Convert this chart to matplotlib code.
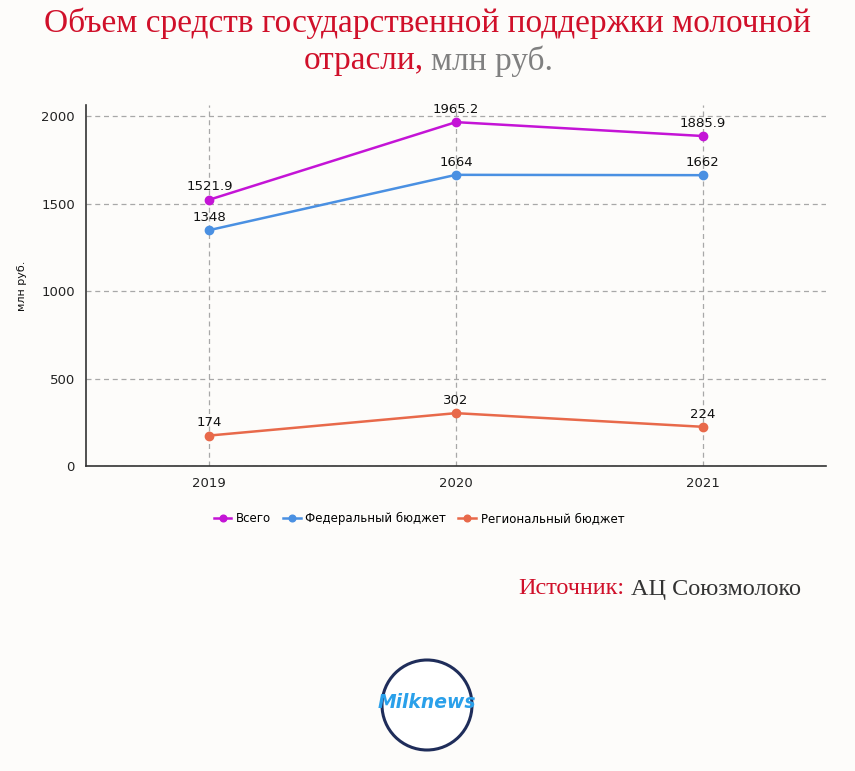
import matplotlib
matplotlib.use('Agg')
import matplotlib.pyplot as plt
from matplotlib.patches import Circle

years = ['2019', '2020', '2021']
total = [1521.9, 1965.2, 1885.9]
federal = [1348, 1664, 1662]
regional = [174, 302, 224]
series_names = ['Всего', 'Федеральный бюджет', 'Региональный бюджет']
colors = ['#c414d6', '#4a90e2', '#e8694a']

bg = '#fdfcfa'
fig = plt.figure(figsize=(8.55, 7.71), dpi=100, facecolor=bg)
ax = fig.add_axes([0.1006, 0.3956, 0.8654, 0.4682], facecolor=bg)

x = list(range(len(years)))
for vals, name, c in zip([total, federal, regional], series_names, colors):
    ax.plot(x, vals, color=c, lw=1.8, marker='o', ms=6, label=name, zorder=3)
    for xi, v in zip(x, vals):
        txt = ('%g' % v)
        ax.annotate(txt, (xi, v), xytext=(0, 4.5), textcoords='offset points',
                    ha='center', va='bottom', fontsize=9.5, color='#111111')

ax.set_xlim(-0.5, 2.5)
ax.set_ylim(0, 2063)
ax.set_xticks(x)
ax.set_xticklabels(years)
ax.set_yticks([0, 500, 1000, 1500, 2000])
ax.grid(True, ls=(0, (4, 3)), color='#a8a8a8', lw=0.9)
ax.set_axisbelow(True)
for s in ['top', 'right']:
    ax.spines[s].set_visible(False)
for s in ['left', 'bottom']:
    ax.spines[s].set_color('#333333')
    ax.spines[s].set_linewidth(1.2)
ax.tick_params(length=0, labelsize=9.5, colors='#222222', pad=8)
ax.set_ylabel('млн руб.', fontsize=8, color='#111111', labelpad=10)

fig.legend(loc='center', bbox_to_anchor=(0.49, 0.327), ncol=3, frameon=False,
           fontsize=8.5, handlelength=1.5, columnspacing=1.0, handletextpad=0.4,
           markerscale=0.8)

# title
fig.text(0.5, 0.97, 'Объем средств государственной поддержки молочной',
         ha='center', va='center', fontsize=24, color='#d0102a', family='Liberation Serif')
fig.text(424 / 855, 0.921, 'отрасли,', ha='right', va='center', fontsize=24,
         color='#d0102a', family='Liberation Serif')
fig.text(431 / 855, 0.921, 'млн руб.', ha='left', va='center', fontsize=24,
         color='#808080', family='Liberation Serif')

# source
fig.canvas.draw()
r = fig.canvas.get_renderer()
t1 = fig.text(518 / 855, 1 - 589 / 771, 'Источник:', ha='left', va='center', fontsize=17.5,
              color='#d0102a', family='Liberation Serif')
bb = t1.get_window_extent(r)
fig.text((bb.x1 + 7) / fig.bbox.width, 1 - 589 / 771, 'АЦ Союзмолоко', ha='left', va='center',
         fontsize=17.5, color='#333333', family='Liberation Serif')

# logo
lax = fig.add_axes([0, 0, 1, 1], facecolor='none')
lax.set_xlim(0, 855)
lax.set_ylim(771, 0)
lax.axis('off')
lax.add_patch(Circle((427, 705), 45, facecolor='white', edgecolor='#1f2d5a', lw=2.2))
lax.text(427, 703, 'Milknews', ha='center', va='center', fontsize=13.5, color='#2aa0ea',
         style='italic', weight='bold')

fig.savefig('out.png', dpi=100, facecolor=bg)
